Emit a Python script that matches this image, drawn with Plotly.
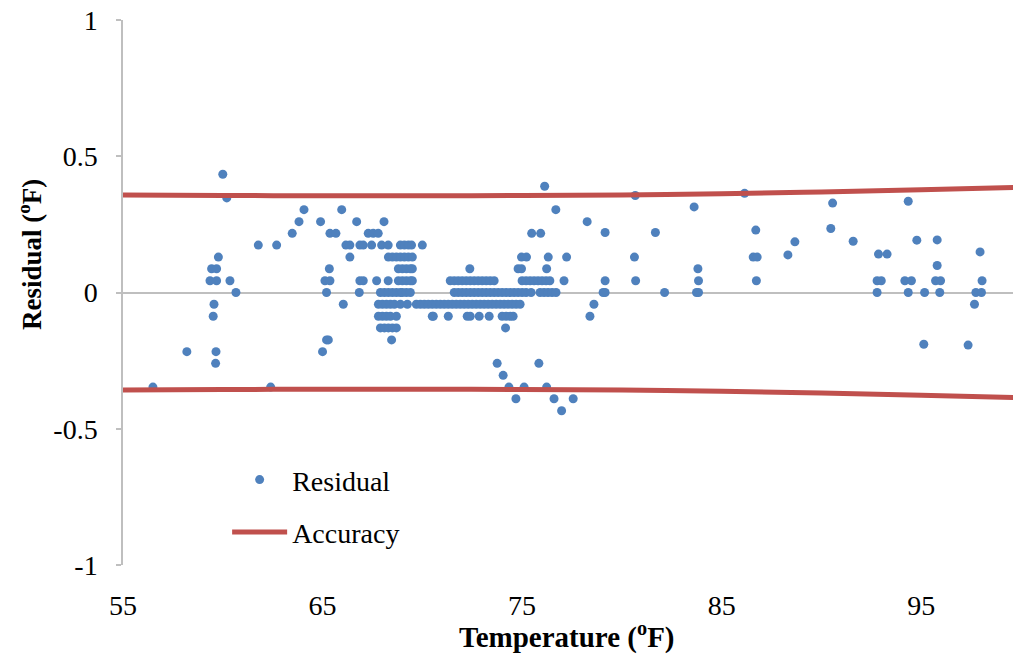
import plotly.graph_objects as go

# Residual scatter: temperature (ºF) and residual (ºF)
temperature = [
    56.5, 58.2, 59.36, 59.52, 59.56, 59.44, 59.69, 59.69, 59.78, 59.66, 59.64,
    60.0, 60.2, 60.36, 60.66, 61.78, 62.4, 62.7, 63.48, 63.82, 64.07, 64.9,
    65.0, 65.2, 65.29, 65.12, 65.37, 65.34, 65.2, 65.37, 65.67, 65.96, 66.04,
    66.17, 66.37, 66.37, 66.71, 66.84, 66.87, 67.04, 66.87, 67.04, 67.29, 67.46,
    67.54, 67.71, 67.79, 67.96, 68.08, 68.29, 68.29,
    # dense block 68-70
    68.9, 69.1, 69.3, 69.46, 70.0,
    68.3, 68.5, 68.7, 68.9, 69.1, 69.3, 69.5,
    68.8, 69.0, 69.2, 69.4, 69.5,
    68.8, 69.0, 69.2, 69.4, 69.5,
    67.9, 68.1, 68.3, 68.5, 68.7, 68.9, 69.0, 69.2, 69.4,
    67.8, 68.0, 68.2, 68.4, 68.6, 68.9, 69.25, 69.7, 69.9, 70.1, 70.3, 70.5,
    67.8, 68.0, 68.2, 68.4, 68.7, 70.5,
    67.9, 68.1, 68.3, 68.5, 68.7,
    68.46,
    # dense block 70.5-75
    72.38, 74.8,
    71.4, 71.6, 71.8, 72.0, 72.2, 72.4, 72.6, 72.8, 73.0, 73.2, 73.4, 73.6,
    71.6, 71.8, 72.0, 72.2, 72.4, 72.6, 72.8, 73.0, 73.2, 73.4, 73.6, 73.8,
    74.0, 74.2, 74.4, 74.6,
    70.7, 70.9, 71.1, 71.3, 71.5, 71.7, 71.9, 72.1, 72.3, 72.5, 72.7, 72.9,
    73.1, 73.3, 73.5, 73.7, 73.9, 74.1, 74.3, 74.5, 74.7, 74.9,
    70.55, 71.3, 72.25, 72.4, 72.85, 73.35, 74.0, 74.2, 74.4, 74.55,
    74.17, 73.75, 75.84, 74.05, 74.34, 75.1, 76.23, 74.69, 76.6, 77.56, 76.98,
    # 75-77.5
    76.13, 76.69, 75.48, 75.93, 74.97, 75.22, 76.31, 77.23, 74.97, 76.23,
    75.0, 75.2, 75.4, 75.6, 75.8, 76.0, 76.2, 76.39, 77.1,
    74.8, 75.0, 75.2, 75.45, 75.9, 76.1, 76.3, 76.5, 76.7,
    # right side
    78.26, 78.4, 78.6, 79.06, 79.16, 79.16, 79.16,
    80.63, 80.67, 80.69, 81.68, 82.14,
    83.62, 83.74, 83.84, 83.84, 83.81,
    86.15, 86.58, 86.78, 86.71, 86.74,
    88.32, 88.67, 90.47, 90.56, 91.59,
    92.79, 93.0, 92.79, 92.86, 93.29,
    94.35, 94.18, 94.51, 94.35, 94.78,
    95.13, 95.17, 95.8, 95.8, 95.72, 95.97, 95.93,
    97.35, 97.67, 97.74, 98.02, 97.95, 98.05,
]

residual = [
    -0.347, -0.217, 0.043, -0.087, -0.043, 0.087, 0.087, 0.043, 0.13, -0.217, -0.26,
    0.434, 0.347, 0.043, 0.0, 0.174, -0.347, 0.174, 0.217, 0.26, 0.304, 0.26,
    -0.217, -0.174, -0.174, 0.043, 0.043, 0.087, 0.0, 0.217, 0.217, 0.304, -0.043,
    0.174, 0.174, 0.13, 0.26, 0.0, 0.043, 0.043, 0.174, 0.174, 0.217, 0.174,
    0.217, 0.043, 0.217, 0.174, 0.26, 0.174, 0.043,
    0.174, 0.174, 0.174, 0.174, 0.174,
    0.13, 0.13, 0.13, 0.13, 0.13, 0.13, 0.13,
    0.087, 0.087, 0.087, 0.087, 0.087,
    0.043, 0.043, 0.043, 0.043, 0.043,
    0.0, 0.0, 0.0, 0.0, 0.0, 0.0, 0.0, 0.0, 0.0,
    -0.043, -0.043, -0.043, -0.043, -0.043, -0.043, -0.043, -0.043, -0.043, -0.043, -0.043, -0.043,
    -0.087, -0.087, -0.087, -0.087, -0.087, -0.087,
    -0.13, -0.13, -0.13, -0.13, -0.13,
    -0.174,
    0.087, 0.087,
    0.043, 0.043, 0.043, 0.043, 0.043, 0.043, 0.043, 0.043, 0.043, 0.043, 0.043, 0.043,
    0.0, 0.0, 0.0, 0.0, 0.0, 0.0, 0.0, 0.0, 0.0, 0.0, 0.0, 0.0,
    0.0, 0.0, 0.0, 0.0,
    -0.043, -0.043, -0.043, -0.043, -0.043, -0.043, -0.043, -0.043, -0.043, -0.043, -0.043, -0.043,
    -0.043, -0.043, -0.043, -0.043, -0.043, -0.043, -0.043, -0.043, -0.043, -0.043,
    -0.087, -0.087, -0.087, -0.087, -0.087, -0.087, -0.087, -0.087, -0.087, -0.087,
    -0.13, -0.26, -0.26, -0.304, -0.347, -0.347, -0.347, -0.39, -0.39, -0.39, -0.434,
    0.39, 0.304, 0.217, 0.217, 0.13, 0.13, 0.13, 0.13, 0.087, 0.087,
    0.043, 0.043, 0.043, 0.043, 0.043, 0.043, 0.043, 0.043, 0.043,
    0.0, 0.0, 0.0, 0.0, 0.0, 0.0, 0.0, 0.0, 0.0,
    0.26, -0.087, -0.043, 0.0, 0.0, 0.043, 0.22,
    0.13, 0.356, 0.043, 0.22, 0.0,
    0.314, 0.0, 0.0, 0.043, 0.087,
    0.364, 0.13, 0.13, 0.229, 0.043,
    0.138, 0.186, 0.235, 0.328, 0.188,
    0.043, 0.043, 0.0, 0.141, 0.141,
    0.335, 0.043, 0.043, 0.0, 0.192,
    -0.19, 0.0, 0.193, 0.099, 0.043, 0.043, 0.0,
    -0.193, -0.043, 0.0, 0.0, 0.149, 0.043,
]

# Accuracy band (± bound)
accuracy_temp = [55, 60, 65, 70, 75, 80, 85, 90, 95, 100]
accuracy_upper = [0.358, 0.356, 0.355, 0.355, 0.356, 0.358, 0.362, 0.369, 0.377, 0.386]
accuracy_lower = [-v for v in accuracy_upper]

x_ticks = [55, 65, 75, 85, 95]
y_ticks = [-1, -0.5, 0, 0.5, 1]
x_title = "<b>Temperature (<sup>o</sup>F)</b>"
y_title = "<b>Residual (<sup>o</sup>F)</b>"

BLUE = "#4F81BD"
RED = "#C0504D"
FONT = "Liberation Serif"

fig = go.Figure()
fig.add_trace(go.Scatter(
    x=temperature, y=residual, mode="markers", name="Residual",
    marker=dict(color=BLUE, size=9), legendgroup="a",
))
fig.add_trace(go.Scatter(
    x=accuracy_temp, y=accuracy_upper, mode="lines", name="Accuracy",
    line=dict(color=RED, width=5, shape="spline"), legendgroup="b",
))
fig.add_trace(go.Scatter(
    x=accuracy_temp, y=accuracy_lower, mode="lines", name="Accuracy",
    line=dict(color=RED, width=5, shape="spline"), legendgroup="b", showlegend=False,
))

fig.update_layout(
    width=1013, height=656,
    margin=dict(l=123, r=0, t=20, b=91),
    paper_bgcolor="white", plot_bgcolor="white",
    font=dict(family=FONT, size=28, color="black"),
    showlegend=True,
    legend=dict(
        x=0.117, y=0.202, xanchor="left", yanchor="top",
        bgcolor="rgba(0,0,0,0)", font=dict(family=FONT, size=28),
        tracegroupgap=13, itemwidth=55,
    ),
    xaxis=dict(
        range=[55, 99.6], tickvals=x_ticks, showgrid=False, zeroline=False,
        showline=False, ticks="", ticklabelstandoff=21,
        tickfont=dict(size=28),
    ),
    yaxis=dict(
        range=[-1, 1], tickvals=y_ticks, ticktext=["-1", "-0.5", "0", "0.5", "1"],
        showgrid=False, zeroline=True, zerolinecolor="#BFBFBF", zerolinewidth=1.5,
        showline=True, linecolor="#BFBFBF", linewidth=1.5,
        ticks="outside", ticklen=5, tickcolor="#BFBFBF", tickwidth=1.5,
        ticklabelstandoff=13, tickfont=dict(size=28),
    ),
    annotations=[
        dict(text=x_title, xref="paper", yref="paper", x=(567 - 123) / 890,
             y=(565 - 635) / 545, xanchor="center", yanchor="middle",
             showarrow=False, font=dict(family=FONT, size=29)),
        dict(text=y_title, xref="paper", yref="paper", x=(30 - 123) / 890,
             y=(565 - 255) / 545, xanchor="center", yanchor="middle",
             textangle=-90, showarrow=False, font=dict(family=FONT, size=27)),
    ],
)

fig.write_html("out.html")
